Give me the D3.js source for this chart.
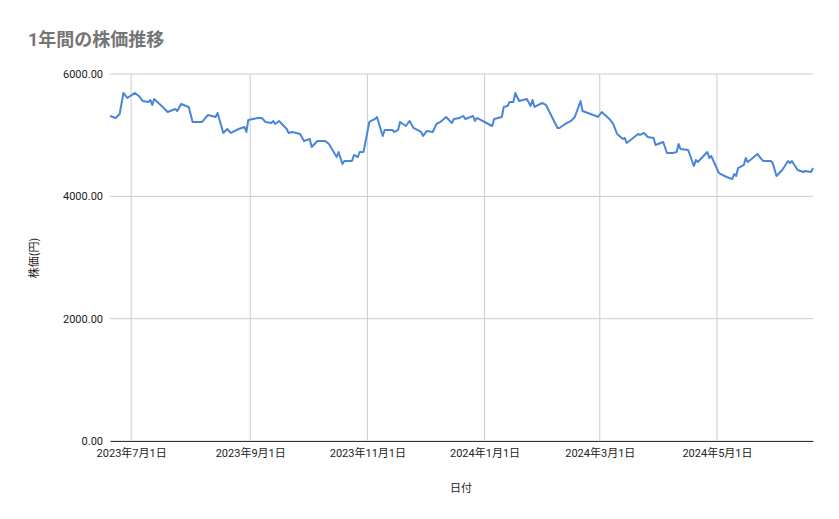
<!DOCTYPE html>
<html><head><meta charset="utf-8">
<script src="https://cdn.jsdelivr.net/npm/d3@7"></script>
<style>body{margin:0;background:#fff;font-family:Roboto,"Noto Sans CJK JP",sans-serif}</style>
</head><body><svg id="c" width="839" height="519"></svg>
<script>
const startDate = "2023-06-20";
const dayOffsets = [0,3,5,7,9,13,15,17,20,21,22,23,28,30,34,35,37,41,43,48,51,55,56,59,61,63,67,70,71,72,77,79,81,84,85,86,88,92,93,95,99,101,104,105,108,112,114,118,119,121,122,126,127,129,130,132,135,138,139,142,143,147,148,150,151,154,156,158,162,163,165,168,170,172,175,178,179,182,184,185,189,190,191,196,199,200,204,205,207,208,210,211,213,217,219,220,221,225,227,233,234,237,240,242,245,246,253,254,256,260,262,264,267,268,269,275,276,278,280,283,284,288,290,293,295,296,297,301,304,305,306,311,312,313,317,318,321,324,325,326,327,330,331,332,334,337,340,344,345,347,350,353,354,355,358,361,362,365,366];
const prices = [5314,5281,5346,5690,5608,5690,5641,5559,5543,5575,5494,5592,5445,5379,5428,5396,5510,5461,5216,5216,5330,5297,5363,5036,5101,5036,5101,5134,5052,5248,5281,5281,5216,5199,5232,5183,5232,5101,5036,5052,5019,4905,4938,4807,4905,4905,4856,4643,4725,4529,4578,4578,4676,4643,4725,4725,5216,5265,5297,4987,5085,5085,5052,5085,5216,5150,5232,5118,5052,4987,5069,5052,5183,5216,5297,5199,5265,5281,5314,5265,5314,5232,5281,5199,5150,5265,5297,5461,5477,5543,5543,5690,5559,5592,5477,5575,5461,5526,5494,5118,5118,5183,5232,5297,5559,5395,5314,5297,5379,5265,5183,5019,4938,4954,4872,5019,5003,5036,4970,4954,4840,4889,4709,4709,4725,4856,4774,4758,4496,4594,4562,4725,4627,4660,4382,4365,4316,4284,4365,4333,4463,4513,4627,4562,4611,4692,4578,4578,4545,4333,4431,4578,4545,4578,4431,4398,4414,4398,4463];
const yTicks = [0,2000,4000,6000];
const xTickDates = ["2023-07-01","2023-09-01","2023-11-01","2024-01-01","2024-03-01","2024-05-01"];

const svg = d3.select("#c");
const L=110,R=813,T=74,B=441;
const base = new Date(startDate+"T00:00:00");
const data = dayOffsets.map((d,i)=>({date:d3.timeDay.offset(base,d),v:prices[i]}));
const x = d3.scaleTime().domain(d3.extent(data,d=>d.date)).range([L,R]);
const y = d3.scaleLinear().domain([0,6000]).range([B,T]);
const xt = xTickDates.map(s=>new Date(s+"T00:00:00"));

svg.append("g").selectAll("line").data(yTicks).join("line")
  .attr("x1",L).attr("x2",R).attr("y1",d=>y(d)).attr("y2",d=>y(d)).attr("stroke","#cccccc");
svg.append("g").selectAll("line").data(xt).join("line")
  .attr("x1",d=>x(d)).attr("x2",d=>x(d)).attr("y1",T).attr("y2",B).attr("stroke","#cccccc");

const ya = svg.append("g").attr("transform",`translate(${L},0)`)
  .call(d3.axisLeft(y).tickValues(yTicks).tickFormat(d3.format(".2f")).tickSize(0).tickPadding(7));
ya.select(".domain").remove();
ya.selectAll("text").attr("font-size",11).attr("fill","#222").attr("font-family","Roboto");

const xa = svg.append("g").attr("transform",`translate(0,${B})`)
  .call(d3.axisBottom(x).tickValues(xt).tickFormat(d=>`${d.getFullYear()}年${d.getMonth()+1}月${d.getDate()}日`).tickSize(0).tickPadding(8));
xa.select(".domain").attr("stroke","#333");
xa.selectAll("text").attr("font-size",11).attr("fill","#222").attr("font-family","Roboto,'Noto Sans CJK JP'");

svg.append("path").datum(data).attr("fill","none").attr("stroke","#4a86d8").attr("stroke-width",2)
  .attr("stroke-linejoin","round").attr("d",d3.line().x(d=>x(d.date)).y(d=>y(d.v)));

svg.append("text").attr("x",28).attr("y",46).attr("font-size",18).attr("font-weight","bold")
  .attr("fill","#757575").attr("font-family","Roboto,'Noto Sans CJK JP'").text("1年間の株価推移");
svg.append("text").attr("transform","translate(38,258) rotate(-90)").attr("text-anchor","middle")
  .attr("font-size",11).attr("fill","#222").attr("font-family","'Noto Sans CJK JP'").text("株価(円)");
svg.append("text").attr("x",461).attr("y",492).attr("text-anchor","middle")
  .attr("font-size",11).attr("fill","#222").attr("font-family","'Noto Sans CJK JP'").text("日付");
</script></body></html>
